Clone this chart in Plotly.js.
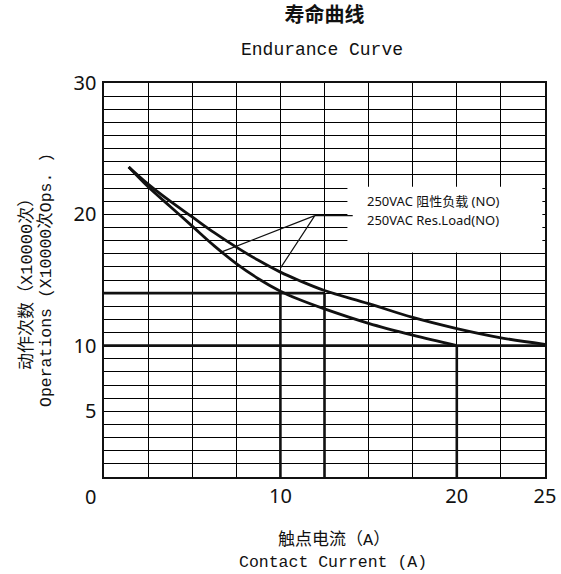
<!DOCTYPE html>
<html>
<head>
<meta charset="utf-8">
<script src="https://cdn.plot.ly/plotly-3.0.1.min.js"></script>
<style>html,body{margin:0;padding:0;background:#fff;}#chart{width:561px;height:574px;}</style>
</head>
<body>
<div id="chart"></div>
<script>
// Upper curve (250VAC resistive load, NO)
const currentUpper = [1.4, 2.5, 3.75, 5, 6.25, 7.5, 8.75, 10, 11, 12.5, 15, 17.5, 20, 22.5, 25];
const opsUpper     = [23.6, 22.3, 21.0, 19.8, 18.6, 17.5, 16.5, 15.6, 15.0, 14.2, 13.2, 12.15, 11.3, 10.6, 10.1];
// Lower curve
const currentLower = [1.4, 2.5, 3.75, 5, 6.25, 7.5, 8.75, 10, 11, 12.5, 15, 17.5, 20];
const opsLower     = [23.6, 22.1, 20.6, 19.1, 17.6, 16.25, 15.1, 14.15, 13.55, 12.8, 11.7, 10.8, 10.0];
// Reference (thick) lines
const refX = [0, 25, null, 0, 12.5, null, 10, 10, null, 12.5, 12.5, null, 20, 20];
const refY = [10, 10, null, 14, 14, null, 0, 14, null, 0, 14, null, 0, 10];
// Leader lines to the label
const leaderX = [6.6, 11.95, 10.0, null, 11.95, 14.1];
const leaderY = [17.1, 19.9, 15.9, null, 19.9, 19.9];
// Tick labels
const xTickVals = [10, 20, 25];
const xTickText = ['10', '20', '25'];
const yTickVals = [5, 10, 20, 30];
const yTickText = ['5', '10', '20', '30'];
// Texts
const titleCn = '寿命曲线';
const titleEn = 'Endurance Curve';
const xTitleCn = '触点电流（A）';
const xTitleEn = 'Contact Current (A)';
const yTitleCn = '动作次数（X10000次）';
const yTitleEn = 'Operations (X10000次Ops. )';
const labelCn = '250VAC 阻性负载 (NO)';
const labelEn = '250VAC Res.Load(NO)';

const ink = '#111';
const gridCol = '#000';
const mono = 'Liberation Mono, Noto Sans CJK SC, monospace';
const cjk = 'Noto Sans CJK SC, sans-serif';

const traces = [
  {x: refX, y: refY, mode: 'lines', line: {color: ink, width: 2.6}, hoverinfo: 'skip', showlegend: false},
  {x: leaderX, y: leaderY, mode: 'lines', line: {color: ink, width: 1.2}, hoverinfo: 'skip', showlegend: false},
  {x: currentUpper, y: opsUpper, mode: 'lines', line: {color: ink, width: 2.8, shape: 'spline', smoothing: 1}, showlegend: false},
  {x: currentLower, y: opsLower, mode: 'lines', line: {color: ink, width: 2.8, shape: 'spline', smoothing: 1}, showlegend: false}
];

const layout = {
  width: 561, height: 574,
  margin: {l: 104, r: 16, t: 83, b: 97},
  paper_bgcolor: '#fff', plot_bgcolor: '#fff',
  title: {text: '<b>' + titleCn + '</b>', font: {family: cjk, size: 20, color: ink},
          x: 0.5, xref: 'paper', xanchor: 'center', y: 1 - 15/574, yref: 'container', yanchor: 'middle'},
  xaxis: {
    range: [0, 25], fixedrange: true,
    tickmode: 'array', tickvals: xTickVals, ticktext: xTickText,
    tickfont: {family: 'Noto Sans, sans-serif', size: 20, color: ink},
    ticks: '', showgrid: true, gridcolor: gridCol, gridwidth: 1,
    minor: {tick0: 0, dtick: 2.5, showgrid: true, gridcolor: gridCol, gridwidth: 1, ticks: ''},
    showline: true, mirror: true, linecolor: ink, linewidth: 1.6, zeroline: false
  },
  yaxis: {
    range: [0, 30], fixedrange: true,
    tickmode: 'array', tickvals: yTickVals, ticktext: yTickText,
    tickfont: {family: 'Noto Sans, sans-serif', size: 20, color: ink},
    ticks: '', ticklabelstandoff: 2, showgrid: true, gridcolor: gridCol, gridwidth: 1,
    minor: {tick0: 0, dtick: 1, showgrid: true, gridcolor: gridCol, gridwidth: 1, ticks: ''},
    showline: true, mirror: true, linecolor: ink, linewidth: 1.6, zeroline: false
  },
  shapes: [
    {type: 'rect', xref: 'x', yref: 'y', x0: 13.8, x1: 24.85, y0: 17.1, y1: 22.1,
     fillcolor: '#fff', line: {width: 0}, layer: 'between'}
  ],
  annotations: [
    {text: titleEn, xref: 'paper', yref: 'paper', x: 0.494, y: 1 + (82.7 - 50)/394.6, xanchor: 'center', yanchor: 'middle',
     showarrow: false, font: {family: mono, size: 18, color: ink}},
    {text: xTitleCn, xref: 'paper', yref: 'paper', x: 0.5215, y: -(540 - 477.3)/394.6, xanchor: 'center', yanchor: 'middle',
     showarrow: false, font: {family: mono, size: 17, color: ink}},
    {text: xTitleEn, xref: 'paper', yref: 'paper', x: 0.52, y: -(563 - 477.3)/394.6, xanchor: 'center', yanchor: 'middle',
     showarrow: false, font: {family: mono, size: 16.5, color: ink}},
    {text: yTitleCn, xref: 'paper', yref: 'paper', x: (27 - 104)/441, y: 0.5, xanchor: 'center', yanchor: 'middle',
     textangle: -90, showarrow: false, font: {family: mono, size: 17, color: ink}},
    {text: yTitleEn, xref: 'paper', yref: 'paper', x: (46 - 104)/441, y: 0.5, xanchor: 'center', yanchor: 'middle',
     textangle: -90, showarrow: false, font: {family: mono, size: 16.5, color: ink}},
    {text: '0', xref: 'paper', yref: 'paper', x: (90 - 104)/441, y: -(497 - 477.3)/394.6, xanchor: 'center', yanchor: 'middle',
     showarrow: false, font: {family: 'Noto Sans, sans-serif', size: 20, color: ink}},
    {text: labelCn, xref: 'x', yref: 'y', x: 14.8, y: 21.0, xanchor: 'left', yanchor: 'middle',
     showarrow: false, font: {family: 'Noto Sans, Noto Sans CJK SC, sans-serif', size: 13, color: ink}},
    {text: labelEn, xref: 'x', yref: 'y', x: 14.8, y: 19.6, xanchor: 'left', yanchor: 'middle',
     showarrow: false, font: {family: 'Noto Sans, Noto Sans CJK SC, sans-serif', size: 13, color: ink}}
  ]
};

Plotly.newPlot('chart', traces, layout, {displayModeBar: false, staticPlot: true});
</script>
</body>
</html>
